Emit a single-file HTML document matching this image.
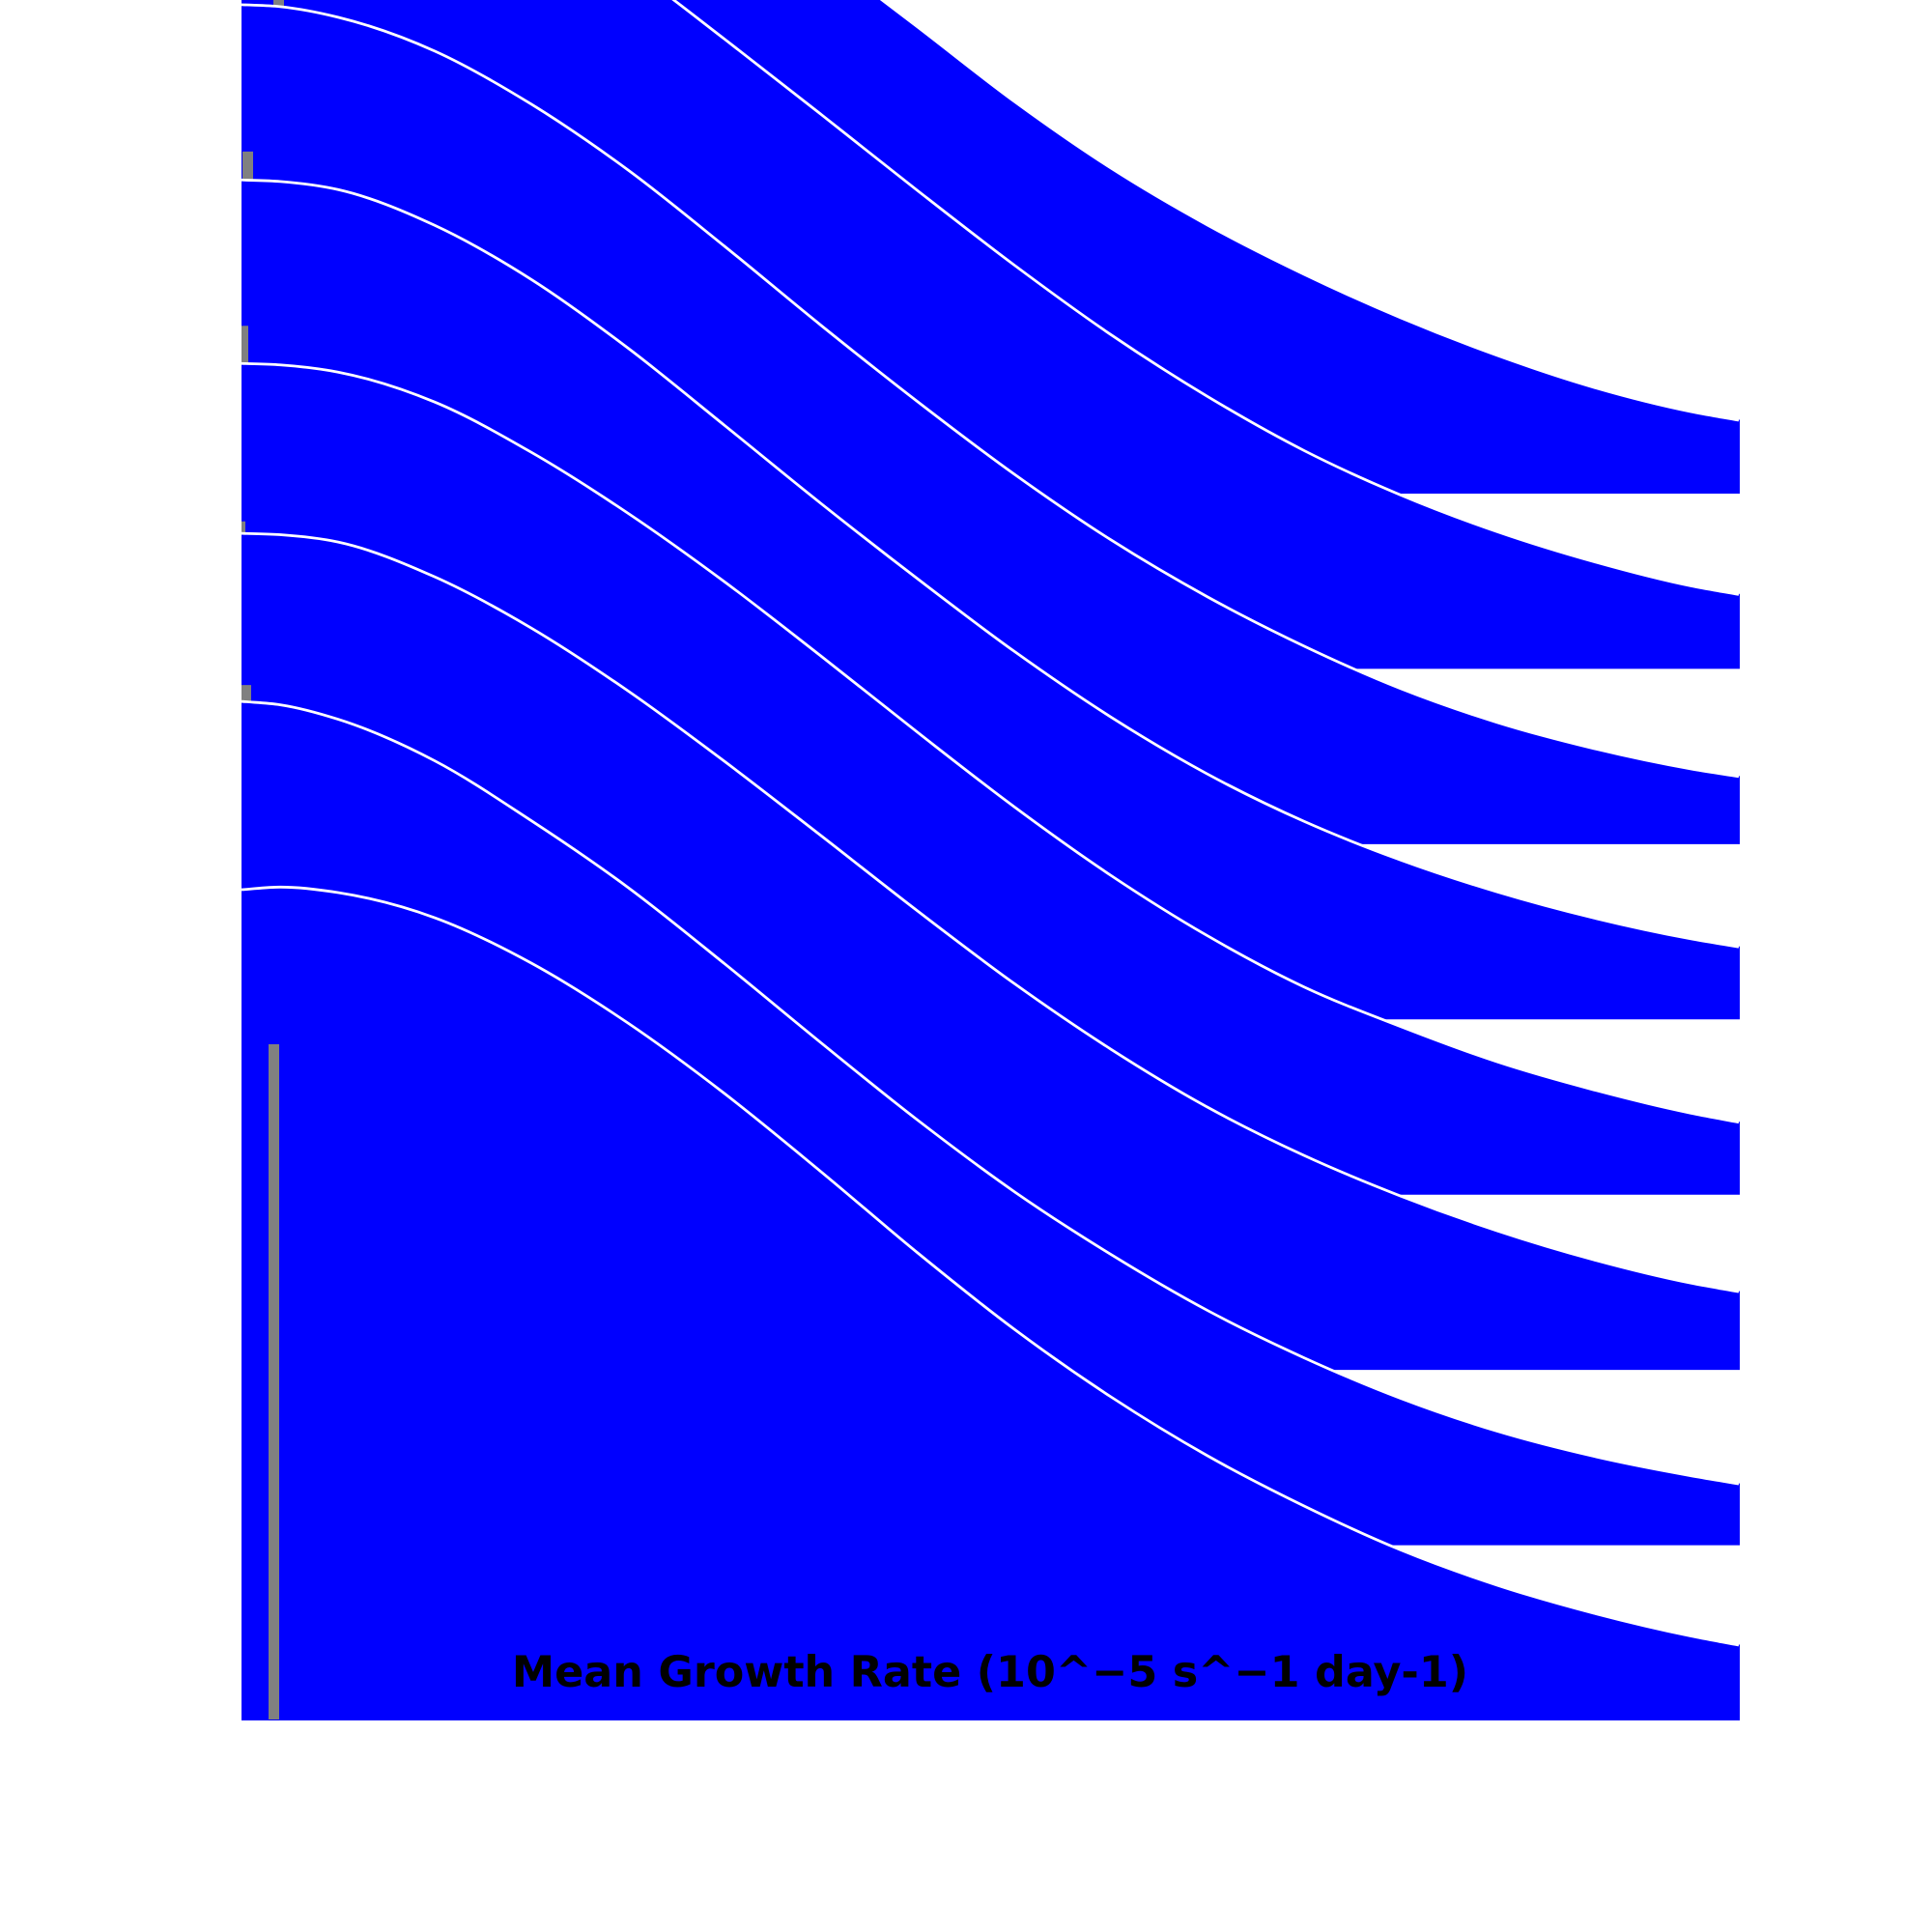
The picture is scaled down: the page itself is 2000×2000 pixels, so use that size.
<!DOCTYPE html>
<html lang="en">
<head>
<meta charset="utf-8">
<title>Mean Growth Rate ridgeline</title>
<style>
  html, body { margin: 0; padding: 0; background: #ffffff; }
  svg { display: block; width: 2000px; height: 2000px; }
  .chart-title { font-family: "DejaVu Sans", "Liberation Sans", sans-serif; font-weight: 700; font-size: 44.44px; fill: #000000; }
</style>
</head>
<body>
<svg id="chart" xmlns="http://www.w3.org/2000/svg" width="2000" height="2000" viewBox="0 0 2000 2000">
  <rect x="0" y="0" width="2000" height="2000" fill="#ffffff"></rect>
  <g id="ridges"></g>
  <text class="chart-title" x="1025" y="1746" text-anchor="middle">Mean Growth Rate (10^−5 s^−1 day-1)</text>
</svg>
<script>
const growthRates = [0, 0.4, 1, 2, 3, 4, 5, 6, 7, 8, 9, 10, 11, 12, 13, 14, 15, 15.5];

const ridge1 = [9.10, 9.05, 8.90, 8.45, 7.82, 7.12, 6.36, 5.59, 4.83, 4.06, 3.37, 2.78, 2.27, 1.82, 1.43, 1.10, 0.85, 0.76];
const ridge2 = [9.10, 9.05, 8.95, 8.55, 7.96, 7.28, 6.52, 5.74, 4.95, 4.18, 3.46, 2.82, 2.26, 1.80, 1.42, 1.11, 0.86, 0.77];
const ridge3 = [8.69, 8.67, 8.56, 8.21, 7.66, 6.98, 6.19, 5.37, 4.58, 3.83, 3.15, 2.56, 2.05, 1.61, 1.26, 0.99, 0.78, 0.70];
const ridge4 = [8.69, 8.674, 8.59, 8.22, 7.66, 6.95, 6.15, 5.34, 4.56, 3.81, 3.13, 2.54, 2.05, 1.65, 1.32, 1.05, 0.835, 0.75];
const ridge5 = [8.605, 8.59, 8.515, 8.205, 7.685, 7.055, 6.345, 5.575, 4.785, 4.015, 3.305, 2.68, 2.15, 1.74, 1.375, 1.085, 0.845, 0.75];
const ridge6 = [8.66, 8.646, 8.57, 8.21, 7.68, 7.03, 6.30, 5.53, 4.75, 4.00, 3.32, 2.72, 2.22, 1.80, 1.44, 1.14, 0.90, 0.81];
const ridge7 = [8.735, 8.70, 8.55, 8.12, 7.50, 6.81, 6.02, 5.20, 4.40, 3.66, 3.01, 2.43, 1.94, 1.52, 1.18, 0.92, 0.72, 0.635];
const ridge8 = [8.60, 8.627, 8.57, 8.31, 7.84, 7.22, 6.49, 5.68, 4.84, 4.05, 3.35, 2.74, 2.22, 1.765, 1.40, 1.11, 0.875, 0.78];

const barStarts = [0.35, 0.33, 0.01, 0.00, 0.00, 0.00, 0.10, 0.28];
const barWidths = [0.11, 0.11, 0.11, 0.07, 0.04, 0.10, 0.10, 0.11];
const barHeights = [7.00, 7.00, 7.17, 7.18, 6.97, 7.09, 6.60, 7.00];

const ridgeSeries = [ridge1, ridge2, ridge3, ridge4, ridge5, ridge6, ridge7, ridge8];

function xScale(rate) {
  return 250 + rate * 100;
}
function ridgeBaseline(index) {
  return 511 + index * 181.43;
}
function yScale(index, density) {
  return ridgeBaseline(index) - density * 100;
}

function smoothSegments(pts) {
  const n = pts.length;
  const tangents = [];
  for (let i = 0; i < n; i++) {
    if (i === 0) {
      tangents.push((pts[1][1] - pts[0][1]) / (pts[1][0] - pts[0][0]));
    } else if (i === n - 1) {
      tangents.push((pts[n - 1][1] - pts[n - 2][1]) / (pts[n - 1][0] - pts[n - 2][0]));
    } else {
      const h0 = pts[i][0] - pts[i - 1][0];
      const h1 = pts[i + 1][0] - pts[i][0];
      const s0 = (pts[i][1] - pts[i - 1][1]) / h0;
      const s1 = (pts[i + 1][1] - pts[i][1]) / h1;
      tangents.push((s0 * h1 + s1 * h0) / (h0 + h1));
    }
  }
  let d = '';
  for (let i = 0; i < n - 1; i++) {
    const h = (pts[i + 1][0] - pts[i][0]) / 3;
    d += ' C' + (pts[i][0] + h).toFixed(2) + ' ' + (pts[i][1] + tangents[i] * h).toFixed(2) +
         ' ' + (pts[i + 1][0] - h).toFixed(2) + ' ' + (pts[i + 1][1] - tangents[i + 1] * h).toFixed(2) +
         ' ' + pts[i + 1][0].toFixed(2) + ' ' + pts[i + 1][1].toFixed(2);
  }
  return d;
}

const svgNS = 'http://www.w3.org/2000/svg';
const root = document.getElementById('ridges');

ridgeSeries.forEach(function (series, index) {
  const pts = series.map(function (density, j) {
    return [xScale(growthRates[j]), yScale(index, density)];
  });
  const curve = smoothSegments(pts);
  const base = ridgeBaseline(index);
  const firstX = pts[0][0];
  const firstY = pts[0][1];
  const lastX = pts[pts.length - 1][0];

  const group = document.createElementNS(svgNS, 'g');
  
  

  const fill = document.createElementNS(svgNS, 'path');
  
  
  fill.setAttribute('d', 'M' + firstX + ' ' + base.toFixed(2) + ' L' + firstX + ' ' + firstY.toFixed(2) + curve + ' L' + (lastX + 1) + ' ' + (pts[pts.length - 1][1] - 1).toFixed(2) + ' L' + (lastX + 1) + ' ' + base.toFixed(2) + ' Z');
  fill.setAttribute('fill', '#0000ff');
  group.appendChild(fill);

  const line = document.createElementNS(svgNS, 'path');
  
  
  line.setAttribute('d', 'M' + firstX + ' ' + firstY.toFixed(2) + curve);
  line.setAttribute('fill', 'none');
  line.setAttribute('stroke', '#ffffff');
  line.setAttribute('stroke-width', '2.78');
  group.appendChild(line);

  const bar = document.createElementNS(svgNS, 'rect');
  
  
  bar.setAttribute('x', xScale(barStarts[index]));
  bar.setAttribute('y', yScale(index, barHeights[index]));
  bar.setAttribute('width', barWidths[index] * 100);
  bar.setAttribute('height', barHeights[index] * 100 - 1);
  bar.setAttribute('fill', '#808080');
  group.appendChild(bar);

  root.appendChild(group);
});
</script>
</body>
</html>
